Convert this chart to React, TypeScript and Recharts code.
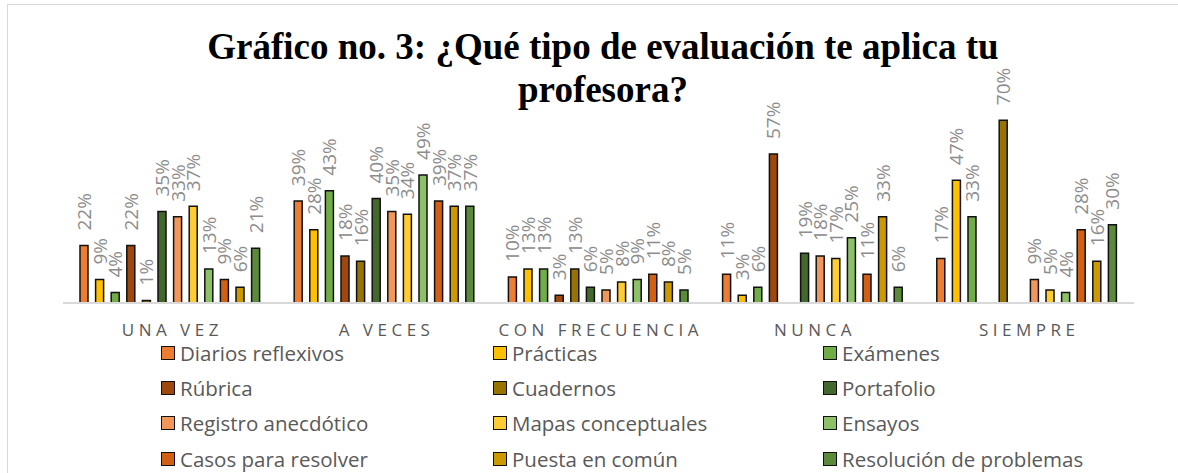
import { BarChart, Bar, XAxis, YAxis, LabelList } from "recharts";

const categories = ["UNA VEZ", "A VECES", "CON FRECUENCIA", "NUNCA", "SIEMPRE"];

// one array per series, in category order
const diariosReflexivos = [22, 39, 10, 11, 17];
const practicas = [9, 28, 13, 3, 47];
const examenes = [4, 43, 13, 6, 33];
const rubrica = [22, 18, 3, 57, 0];
const cuadernos = [1, 16, 13, 0, 70];
const portafolio = [35, 40, 6, 19, 0];
const registroAnecdotico = [33, 35, 5, 18, 9];
const mapasConceptuales = [37, 34, 8, 17, 5];
const ensayos = [13, 49, 9, 25, 4];
const casosParaResolver = [9, 39, 11, 11, 28];
const puestaEnComun = [6, 37, 8, 33, 16];
const resolucionProblemas = [21, 37, 5, 6, 30];

const series = [
  { key: "s1", name: "Diarios reflexivos", values: diariosReflexivos, color: "#ED7D31" },
  { key: "s2", name: "Prácticas", values: practicas, color: "#FFC000" },
  { key: "s3", name: "Exámenes", values: examenes, color: "#70AD47" },
  { key: "s4", name: "Rúbrica", values: rubrica, color: "#9E480E" },
  { key: "s5", name: "Cuadernos", values: cuadernos, color: "#997300" },
  { key: "s6", name: "Portafolio", values: portafolio, color: "#43682B" },
  { key: "s7", name: "Registro anecdótico", values: registroAnecdotico, color: "#F1975A" },
  { key: "s8", name: "Mapas conceptuales", values: mapasConceptuales, color: "#FFCD33" },
  { key: "s9", name: "Ensayos", values: ensayos, color: "#8CC168" },
  { key: "s10", name: "Casos para resolver", values: casosParaResolver, color: "#D26012" },
  { key: "s11", name: "Puesta en común", values: puestaEnComun, color: "#CC9A00" },
  { key: "s12", name: "Resolución de problemas", values: resolucionProblemas, color: "#5A8A3A" },
];

const data = categories.map((category, i) => {
  const row: Record<string, string | number> = { category };
  for (const s of series) row[s.key] = s.values[i];
  return row;
});

const LABEL_FONT = "'Open Sans', 'Noto Sans', sans-serif";

function RotatedLabel(props: any) {
  const { x, y, width, value } = props;
  if (value == null) return null;
  const cx = x + width / 2;
  const ty = y - 15;
  return (
    <text
      x={cx}
      y={ty}
      transform={`rotate(-90 ${cx} ${ty})`}
      textAnchor="start"
      dominantBaseline="central"
      fill="#8c8c8c"
      fontSize={19}
      fontFamily={LABEL_FONT}
    >
      {`${value}%`}
    </text>
  );
}

function CategoryTick(props: any) {
  const { x, y, payload } = props;
  const spacing = 4.5;
  return (
    <text
      x={x + spacing / 2}
      y={y + 25}
      textAnchor="middle"
      fill="#595959"
      fontSize={17}
      fontFamily={LABEL_FONT}
      letterSpacing={spacing}
    >
      {payload.value}
    </text>
  );
}

export default function App() {
  return (
    <div
      style={{
        position: "absolute",
        left: 0,
        top: 0,
        width: 1178,
        height: 473,
        overflow: "hidden",
        background: "#fff",
      }}
    >
      <div
        style={{
          position: "absolute",
          left: 7,
          top: 4,
          width: 1300,
          height: 600,
          borderLeft: "1px solid #d9d9d9",
          borderTop: "1px solid #d9d9d9",
        }}
      />
      <div
        style={{
          position: "absolute",
          left: 0,
          top: 25,
          width: 1206,
          textAlign: "center",
          fontFamily: "'Liberation Serif', 'Times New Roman', serif",
          fontWeight: "bold",
          fontSize: 37,
          lineHeight: "43px",
          color: "#000",
        }}
      >
        Gráfico no. 3: ¿Qué tipo de evaluación te aplica tu
        <br />
        profesora?
      </div>
      <div style={{ position: "absolute", left: 0, top: 0 }}>
        <BarChart
          width={1178}
          height={473}
          data={data}
          margin={{ top: 94, right: 44, bottom: 140, left: 63 }}
          barSize={8}
          barGap={7.6}
        >
          <XAxis
            dataKey="category"
            axisLine={{ stroke: "#d9d9d9", strokeWidth: 2 }}
            tickLine={false}
            interval={0}
            tick={<CategoryTick />}
          />
          <YAxis hide domain={[0, 80]} />
          {series.map((s) => (
            <Bar
              key={s.key}
              dataKey={s.key}
              name={s.name}
              fill={s.color}
              stroke="#111"
              strokeWidth={1.5}
              isAnimationActive={false}
            >
              <LabelList dataKey={s.key} content={<RotatedLabel />} />
            </Bar>
          ))}
        </BarChart>
      </div>
      <div
        style={{
          position: "absolute",
          left: 161,
          top: 335,
          display: "grid",
          gridTemplateColumns: "332px 330px 340px",
          gridAutoRows: "35.3px",
          fontFamily: LABEL_FONT,
          fontSize: 20.5,
          color: "#595959",
        }}
      >
        {series.map((s) => (
          <div
            key={s.key}
            style={{ display: "flex", alignItems: "center", whiteSpace: "nowrap" }}
          >
            <span
              style={{
                display: "inline-block",
                width: 14,
                height: 14,
                boxSizing: "border-box",
                border: "1.5px solid #111",
                background: s.color,
                marginRight: 5,
              }}
            />
            {s.name}
          </div>
        ))}
      </div>
    </div>
  );
}
